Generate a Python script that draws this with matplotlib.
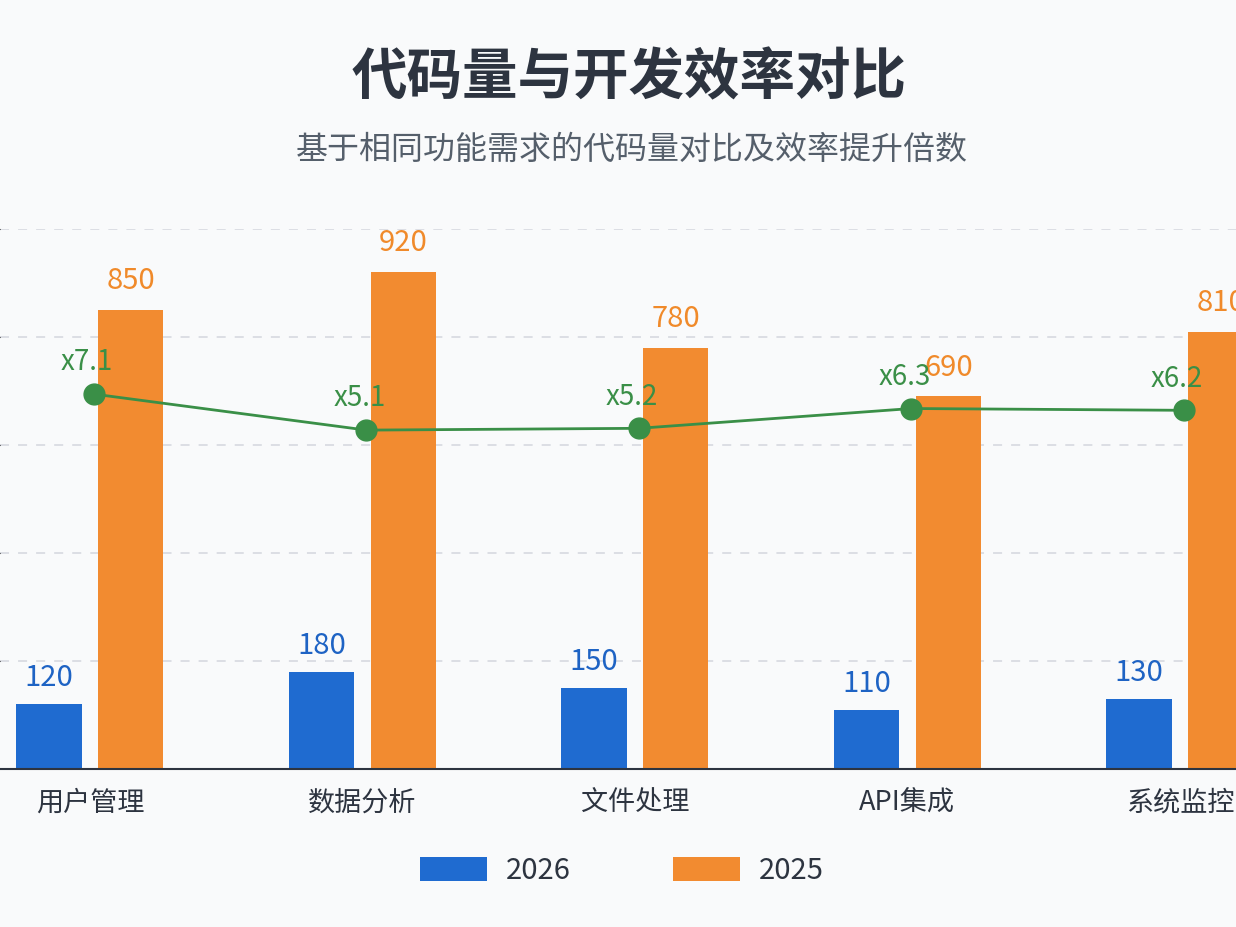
import numpy as np
from matplotlib import pyplot as plt

plt.rcParams['font.family'] = ['Noto Sans CJK SC', 'DejaVu Sans']

# Data
categories = ['用户管理', '数据分析', '文件处理', 'API集成', '系统监控']
code_2026 = [120, 180, 150, 110, 130]
code_2025 = [850, 920, 780, 690, 810]
multipliers = [7.1, 5.1, 5.2, 6.3, 6.2]
series_names = ['2026', '2025']

blue = '#1f6bd0'
orange = '#f28b30'
green = '#3a8f47'
dark = '#2d3440'
bg = '#f9fafb'

fig = plt.figure(figsize=(12.36, 9.27), dpi=100, facecolor=bg)
ax = fig.add_axes([0, 0.1704, 1, 0.5825])
ax.set_facecolor('none')

x = np.arange(len(categories))
width = 0.24
b1 = ax.bar(x - 0.15, code_2026, width, color=blue, label=series_names[0], zorder=2)
b2 = ax.bar(x + 0.15, code_2025, width, color=orange, label=series_names[1], zorder=2)

for rect, v in zip(b1, code_2026):
    ax.annotate(str(v), (rect.get_x() + rect.get_width() / 2, v),
                xytext=(0, 8), textcoords='offset points',
                ha='center', va='bottom', fontsize=21, color='#1e63c4')
for rect, v in zip(b2, code_2025):
    ax.annotate(str(v), (rect.get_x() + rect.get_width() / 2, v),
                xytext=(0, 10), textcoords='offset points',
                ha='center', va='bottom', fontsize=21, color='#f08a2a')

ax.set_xlim(-0.330, 4.206)
ax.set_ylim(0, 1000)
ax.set_yticks([200, 400, 600, 800, 1000])
ax.yaxis.grid(True, color='#d9dce2', linewidth=1.3, linestyle=(0, (5, 5)))
ax.set_axisbelow(True)
ax.tick_params(axis='y', left=False, labelleft=False)
ax.set_xticks(x)
ax.set_xticklabels(categories, fontsize=19.5, color=dark)
ax.tick_params(axis='x', length=0, pad=15)
for s in ['top', 'left', 'right']:
    ax.spines[s].set_visible(False)
ax.spines['bottom'].set_color(dark)
ax.spines['bottom'].set_linewidth(1.5)

# efficiency multiplier on a hidden second axis
ax2 = ax.twinx()
ax2.plot(x + 0.015, multipliers, color=green, linewidth=2, marker='o',
         markersize=15, zorder=3)
for xi, m in zip(x, multipliers):
    ax2.annotate('x%.1f' % m, (xi, m), xytext=(-2, 12), textcoords='offset points',
                 ha='center', va='bottom', fontsize=20, color=green)
ax2.set_ylim(-13.73, 16.27)
ax2.set_axis_off()

fig.text(0.509, 0.915, '代码量与开发效率对比', ha='center', va='center',
         fontsize=40, fontweight='bold', color=dark)
fig.text(0.511, 0.838, '基于相同功能需求的代码量对比及效率提升倍数', ha='center', va='center',
         fontsize=23, color='#555f6b')

fig.legend(handles=[b1, b2], labels=series_names, loc='center', bbox_to_anchor=(0.503, 0.06),
           ncol=2, frameon=False, fontsize=21, handlelength=2.3, handleheight=0.9,
           handletextpad=0.65, columnspacing=3.5, labelcolor=dark)

fig.savefig('out.png', dpi=100, facecolor=bg)
